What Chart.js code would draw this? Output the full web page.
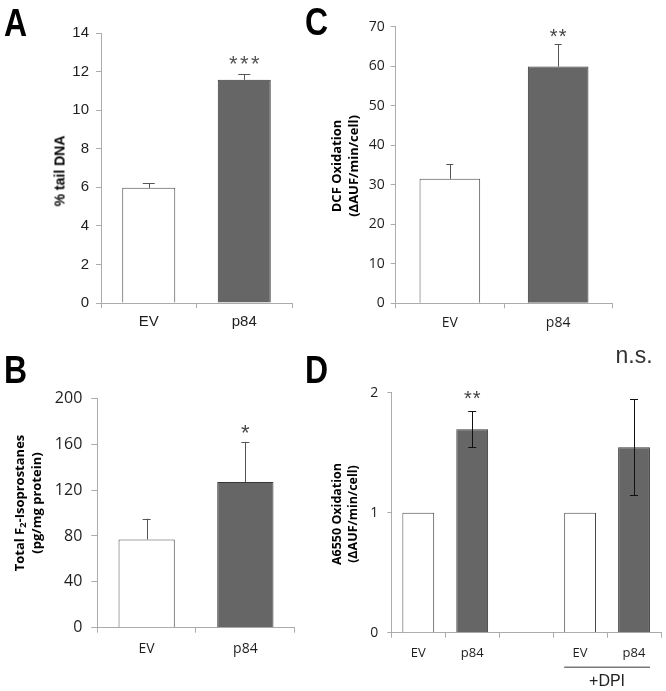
<!DOCTYPE html>
<html><head><meta charset="utf-8">
<script src="https://cdn.jsdelivr.net/npm/chart.js@4"></script>
<style>
html,body{margin:0;padding:0;background:#fff;width:666px;height:691px;overflow:hidden;position:relative}
canvas{position:absolute}
.lbl{position:absolute;font-family:'Liberation Sans',Arial,sans-serif;font-weight:bold;font-size:39px;line-height:1;color:#000;transform:scaleX(0.82);transform-origin:0 0}
.yt{position:absolute;white-space:nowrap;text-align:center;font-weight:bold;color:#000;transform:translate(-50%,-50%) rotate(-90deg)}
.os{font-family:'Open Sans','Noto Sans',sans-serif}
.ls{font-family:'Liberation Sans',Arial,sans-serif}
.yt sub{font-size:0.7em;vertical-align:-0.25em;line-height:0}
</style></head><body>
<canvas id="cA" width="313" height="340" style="left:0;top:0;width:313px;height:340px"></canvas>
<canvas id="cC" width="353" height="340" style="left:313px;top:0;width:353px;height:340px"></canvas>
<canvas id="cB" width="313" height="351" style="left:0;top:340px;width:313px;height:351px"></canvas>
<canvas id="cD" width="353" height="351" style="left:313px;top:340px;width:353px;height:351px"></canvas>
<div class="lbl" style="left:4px;top:3px">A</div>
<div class="lbl" style="left:305px;top:2px">C</div>
<div class="lbl" style="left:4px;top:350px">B</div>
<div class="lbl" style="left:305px;top:350px">D</div>
<div class="yt ls" style="left:60px;top:171px;font-size:14px;line-height:17px">% tail DNA</div>
<div class="yt os" style="left:28px;top:503px;font-size:13px;line-height:17px">Total F<sub>2</sub>-Isoprostanes<br>(pg/mg protein)</div>
<div class="yt os" style="left:345px;top:166px;font-size:13px;line-height:17px">DCF Oxidation<br>(ΔAUF/min/cell)</div>
<div class="yt os" style="left:345px;top:514px;font-size:12.5px;line-height:16px">A6550 Oxidation<br>(ΔAUF/min/cell)</div>
<script>
// ---------- data ----------
const catsA = ['EV', 'p84'];
const valsA = [5.97, 11.57];
const errsA = [0.24, 0.29];
const marksA = ['', '***'];
const yTicksA = [0, 2, 4, 6, 8, 10, 12, 14];

const catsB = ['EV', 'p84'];
const valsB = [77, 127];
const errsB = [18, 35];
const marksB = ['', '*'];
const yTicksB = [0, 40, 80, 120, 160, 200];

const catsC = ['EV', 'p84'];
const valsC = [31.5, 59.9];
const errsC = [3.7, 5.7];
const marksC = ['', '**'];
const yTicksC = [0, 10, 20, 30, 40, 50, 60, 70];

const catsD = ['EV', 'p84', '', 'EV', 'p84'];
const valsD = [1, 1.695, null, 1, 1.545];
const errsD = [0, 0.15, null, 0, 0.4];
const marksD = ['', '**', '', '', 'n.s.'];
const groupLabelD = '+DPI';
const groupIdxD = [3, 4];
const yTicksD = [0, 1, 2];

// ---------- styles ----------
const DARK = '#666666', DARK_B = '#383838', LIGHT = '#ffffff', LIGHT_B = '#4a4a4a';
const AXIS = '#ababab';
const fillFor = cats => c => cats[c.index] === 'p84' ? DARK : LIGHT;
const borderFor = cats => c => cats[c.index] === 'p84' ? DARK_B : LIGHT_B;

const errPlugin = {
  id: 'errbars',
  afterDatasetsDraw(chart, args, o) {
    const ctx = chart.ctx, y = chart.scales.y, meta = chart.getDatasetMeta(0);
    const data = chart.data.datasets[0].data;
    ctx.save();
    meta.data.forEach((bar, i) => {
      const v = data[i];
      if (v == null) return;
      const e = o.errors[i] || 0;
      const x = bar.x;
      const yTop = y.getPixelForValue(v + e);
      if (e > 0) {
        const yBot = o.twoSided ? y.getPixelForValue(v - e) : y.getPixelForValue(v);
        ctx.strokeStyle = o.color; ctx.lineWidth = 1;
        ctx.beginPath();
        ctx.moveTo(Math.round(x) + 0.5, yBot); ctx.lineTo(Math.round(x) + 0.5, yTop);
        ctx.moveTo(x - o.cap, Math.round(yTop) + 0.5); ctx.lineTo(x + o.cap, Math.round(yTop) + 0.5);
        if (o.twoSided) { ctx.moveTo(x - o.cap, Math.round(yBot) + 0.5); ctx.lineTo(x + o.cap, Math.round(yBot) + 0.5); }
        ctx.stroke();
      }
      const m = o.marks[i];
      if (m) {
        const f = o.markFonts ? o.markFonts[m] : o.markFont;
        ctx.font = f.font;
        ctx.fillStyle = f.color;
        ctx.letterSpacing = (f.spacing || 0) + 'px';
        ctx.textAlign = 'center';
        ctx.textBaseline = 'alphabetic';
        const mt = ctx.measureText(m);
        const cy = yTop - f.gap;
        const base = cy + (mt.actualBoundingBoxAscent - mt.actualBoundingBoxDescent) / 2;
        ctx.fillText(m, x + (f.spacing || 0) / 2, base);
        ctx.letterSpacing = '0px';
      }
    });
    if (o.group) {
      const a = meta.data[o.group.idx[0]], b = meta.data[o.group.idx[1]];
      const x0 = a.x - a.width / 2, x1 = b.x + b.width / 2;
      const yb = chart.scales.x.top;
      ctx.strokeStyle = '#7a7a7a'; ctx.lineWidth = 1.5;
      ctx.beginPath(); ctx.moveTo(x0, yb + o.group.lineGap); ctx.lineTo(x1, yb + o.group.lineGap); ctx.stroke();
      ctx.font = o.group.font; ctx.fillStyle = '#222'; ctx.textAlign = 'center'; ctx.textBaseline = 'middle';
      ctx.fillText(o.group.label, (x0 + x1) / 2, yb + o.group.textGap);
    }
    ctx.restore();
  }
};

function makeChart(id, cfg) {
  return new Chart(document.getElementById(id), {
    type: 'bar',
    data: {
      labels: cfg.cats,
      datasets: [{
        data: cfg.vals,
        backgroundColor: fillFor(cfg.cats),
        borderColor: borderFor(cfg.cats),
        borderWidth: 1,
        barPercentage: cfg.barPct,
        categoryPercentage: 1
      }]
    },
    options: {
      responsive: false,
      animation: false,
      events: [],
      layout: { padding: { left: 0, top: cfg.top, right: cfg.right, bottom: 0 } },
      plugins: {
        legend: { display: false },
        tooltip: { enabled: false },
        errbars: cfg.err
      },
      scales: {
        x: {
          grid: { drawOnChartArea: false, offset: true, color: AXIS, tickLength: 5, lineWidth: 1 },
          border: { color: AXIS, width: 1 },
          ticks: { color: '#1e1e1e', font: cfg.xFont, padding: cfg.xPad, maxRotation: 0, autoSkip: false },
          afterFit: s => { s.height = cfg.xH; }
        },
        y: {
          min: cfg.yTicks[0],
          max: cfg.yTicks[cfg.yTicks.length - 1],
          grid: { drawOnChartArea: false, color: AXIS, tickLength: cfg.yTL || 5, lineWidth: 1 },
          border: { color: AXIS, width: 1 },
          afterBuildTicks: s => { s.ticks = cfg.yTicks.map(v => ({ value: v })); },
          ticks: { color: '#1e1e1e', font: cfg.yFont, padding: cfg.yPad },
          afterFit: s => { s.width = cfg.yW; }
        }
      }
    },
    plugins: [errPlugin]
  });
}

const OS = "'Open Sans', 'Noto Sans', sans-serif";
const LS = "'Liberation Sans', Arial, sans-serif";

makeChart('cA', {
  cats: catsA, vals: valsA, yTicks: yTicksA, barPct: 0.555,
  top: 33, right: 21, xH: 37, yW: 101,
  xFont: { family: LS, size: 15 }, xPad: 5,
  yFont: { family: LS, size: 15 }, yPad: 7,
  err: { errors: errsA, marks: marksA, color: '#555', cap: 6, twoSided: false,
         markFont: { font: "22px " + LS, color: '#555', gap: 14.5, spacing: 2.5 } }
});

makeChart('cC', {
  cats: catsC, vals: valsC, yTicks: yTicksC, barPct: 0.56,
  top: 26.7, right: 53.7, xH: 36.7, yW: 82.7,
  xFont: { family: OS, size: 14 }, xPad: 6,
  yFont: { family: OS, size: 14 }, yPad: 6,
  err: { errors: errsC, marks: marksC, color: '#555', cap: 3.5, twoSided: false,
         markFont: { font: "20px " + LS, color: '#444', gap: 11, spacing: 1 } }
});

makeChart('cB', {
  cats: catsB, vals: valsB, yTicks: yTicksB, barPct: 0.57,
  top: 58.3, right: 18.3, xH: 63.3, yW: 97.3,
  xFont: { family: OS, size: 14 }, xPad: 8,
  yFont: { family: OS, size: 16 }, yPad: 9, yTL: 6,
  err: { errors: errsB, marks: marksB, color: '#555', cap: 4, twoSided: false,
         markFont: { font: "22px " + LS, color: '#444', gap: 12.7, spacing: 0 } }
});

makeChart('cD', {
  cats: catsD, vals: valsD, yTicks: yTicksD, barPct: 0.59,
  top: 52.7, right: 5, xH: 58.3, yW: 78.3,
  xFont: { family: OS, size: 13 }, xPad: 8,
  yFont: { family: OS, size: 14 }, yPad: 9, yTL: 4,
  err: { errors: errsD, marks: marksD, color: '#111', cap: 4, twoSided: true,
         markFonts: {
           '**': { font: "20px " + LS, color: '#444', gap: 16, spacing: 1 },
           'n.s.': { font: "23px " + LS, color: '#333', gap: 42.6, spacing: 0 }
         },
         group: { idx: groupIdxD, label: groupLabelD, font: "16px " + LS, lineGap: 34.6, textGap: 49 } }
});
</script>
</body></html>
